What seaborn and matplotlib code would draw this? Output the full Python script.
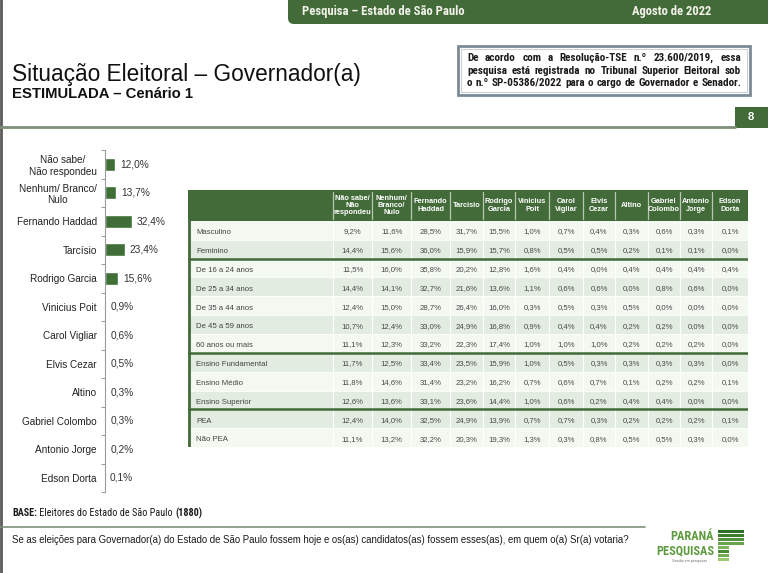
import matplotlib
matplotlib.use('Agg')
import matplotlib.pyplot as plt
import seaborn as sns
from matplotlib import font_manager
from matplotlib.patches import Rectangle, FancyBboxPatch

# ---- data ----
candidates = ['Não sabe/\nNão respondeu', 'Nenhum/ Branco/\nNulo', 'Fernando Haddad', 'Tarcísio',
              'Rodrigo Garcia', 'Vinicius Poit', 'Carol Vigliar', 'Elvis Cezar', 'Altino',
              'Gabriel Colombo', 'Antonio Jorge', 'Edson Dorta']
totals = [12.0, 13.7, 32.4, 23.4, 15.6, 0.9, 0.6, 0.5, 0.3, 0.3, 0.2, 0.1]

col_headers = ['Não sabe/\nNão\nrespondeu', 'Nenhum/\nBranco/\nNulo', 'Fernando\nHaddad', 'Tarcísio',
               'Rodrigo\nGarcia', 'Vinicius\nPoit', 'Carol\nVigliar', 'Elvis\nCezar', 'Altino',
               'Gabriel\nColombo', 'Antonio\nJorge', 'Edson\nDorta']
segments = ['Masculino', 'Feminino', 'De 16 a 24 anos', 'De 25 a 34 anos', 'De 35 a 44 anos',
            'De 45 a 59 anos', '60 anos ou mais', 'Ensino Fundamental', 'Ensino Médio',
            'Ensino Superior', 'PEA', 'Não PEA']
masculino = [9.2, 11.6, 28.5, 31.7, 15.5, 1.0, 0.7, 0.4, 0.3, 0.6, 0.3, 0.1]
feminino = [14.4, 15.6, 36.0, 15.9, 15.7, 0.8, 0.5, 0.5, 0.2, 0.1, 0.1, 0.0]
idade_16_24 = [11.5, 16.0, 35.8, 20.2, 12.8, 1.6, 0.4, 0.0, 0.4, 0.4, 0.4, 0.4]
idade_25_34 = [14.4, 14.1, 32.7, 21.6, 13.6, 1.1, 0.6, 0.6, 0.0, 0.8, 0.6, 0.0]
idade_35_44 = [12.4, 15.0, 28.7, 26.4, 16.0, 0.3, 0.5, 0.3, 0.5, 0.0, 0.0, 0.0]
idade_45_59 = [10.7, 12.4, 33.0, 24.9, 16.8, 0.9, 0.4, 0.4, 0.2, 0.2, 0.0, 0.0]
idade_60_mais = [11.1, 12.3, 33.2, 22.3, 17.4, 1.0, 1.0, 1.0, 0.2, 0.2, 0.2, 0.0]
ens_fundamental = [11.7, 12.5, 33.4, 23.5, 15.9, 1.0, 0.5, 0.3, 0.3, 0.3, 0.3, 0.0]
ens_medio = [11.8, 14.6, 31.4, 23.2, 16.2, 0.7, 0.6, 0.7, 0.1, 0.2, 0.2, 0.1]
ens_superior = [12.6, 13.6, 33.1, 23.6, 14.4, 1.0, 0.6, 0.2, 0.4, 0.4, 0.0, 0.0]
pea = [12.4, 14.0, 32.5, 24.9, 13.9, 0.7, 0.7, 0.3, 0.2, 0.2, 0.2, 0.1]
nao_pea = [11.1, 13.2, 32.2, 20.3, 19.3, 1.3, 0.3, 0.8, 0.5, 0.5, 0.3, 0.0]
table_rows = [masculino, feminino, idade_16_24, idade_25_34, idade_35_44, idade_45_59,
              idade_60_mais, ens_fundamental, ens_medio, ens_superior, pea, nao_pea]
group_breaks = [2, 7, 10]  # rows after which a group separator is drawn

# ---- style ----
GREEN = '#436b39'
LIGHT_ROW = '#f3f8f1'
DARK_ROW = '#e2ece0'
row_shade = [0, 1, 0, 1, 0, 1, 0, 1, 0, 1, 1, 0]


def has_font(name):
    try:
        font_manager.findfont(font_manager.FontProperties(family=name), fallback_to_default=False)
        return True
    except ValueError:
        return False


NARROW = 'Liberation Sans'
for cand in ['Liberation Sans Narrow', 'Roboto Condensed', 'Open Sans Condensed']:
    if has_font(cand):
        NARROW = cand
        break

sns.set_theme(style='white')
plt.rcParams['font.family'] = ['Liberation Sans', 'DejaVu Sans']


def pct(v):
    return f'{v:.1f}'.replace('.', ',') + '%'


fig = plt.figure(figsize=(7.68, 5.73), dpi=100)
fig.patch.set_facecolor('white')

# background axes in pixel coordinates for the slide decorations
bg = fig.add_axes([0, 0, 1, 1])
bg.set_xlim(0, 768)
bg.set_ylim(573, 0)
bg.axis('off')
fig.canvas.draw()
renderer = fig.canvas.get_renderer()


def text_width(s, **kw):
    t = bg.text(0, 0, s, **kw)
    w = t.get_window_extent(renderer).width
    t.remove()
    return w


def fit(s, target, size, **kw):
    # font size that makes s about target pixels wide
    return size * target / text_width(s, fontsize=size, **kw)


bg.plot([1, 1], [0, 573], color='#5a5a5a', lw=2)
bg.add_patch(FancyBboxPatch((288, -20), 500, 44, boxstyle='round,pad=0,rounding_size=6',
                            fc=GREEN, ec='none'))
hdr_kw = dict(fontweight='bold', family=NARROW)
hdr_size = fit('Pesquisa – Estado de São Paulo', 163, 9, **hdr_kw)
bg.text(302, 12, 'Pesquisa – Estado de São Paulo', color='#f2f2ea', fontsize=hdr_size,
        va='center', **hdr_kw)
bg.text(632, 12, 'Agosto de 2022', color='#f2f2ea', fontsize=hdr_size, va='center', **hdr_kw)

title = 'Situação Eleitoral – Governador(a)'
bg.text(12, 81, title, fontsize=fit(title, 350, 17), color='#111111', va='baseline')
subtitle = 'ESTIMULADA – Cenário 1'
bg.text(12, 98, subtitle, fontsize=fit(subtitle, 181, 11, fontweight='bold'), fontweight='bold',
        color='#111111', va='baseline')

# registration note box
bg.add_patch(Rectangle((458, 46), 292, 49, fc='white', ec='#7c8a95', lw=2))
bg.add_patch(Rectangle((461, 49), 286, 43, fc='none', ec='#c9d0d6', lw=0.8))
note_lines = ['De acordo com a Resolução-TSE n.º 23.600/2019, essa',
              'pesquisa está registrada no Tribunal Superior Eleitoral sob',
              'o n.º SP-05386/2022 para o cargo de Governador e Senador.']
note_base = dict(fontweight='bold', family=NARROW)
note_size = fit(note_lines[1], 262, 7, **note_base)
note_kw = dict(fontsize=note_size, color='#1a1a1a', **note_base)
for k, line in enumerate(note_lines):
    words = line.split()
    widths = [text_width(w, **note_kw) for w in words]
    gap = (741 - 467 - sum(widths)) / (len(words) - 1)
    x = 467
    for w, wd in zip(words, widths):
        bg.text(x, 58 + k * 12.5, w, va='center', **note_kw)
        x += wd + gap

# page number and separator
bg.plot([0, 735], [127, 127], color='#7f8f79', lw=2)
bg.add_patch(Rectangle((735, 107), 33, 21, fc=GREEN, ec='none'))
bg.text(751, 117, '8', color='white', fontsize=8, fontweight='bold', ha='center', va='center')

# ---- bar chart ----
ax = fig.add_axes([105 / 768, 1 - 492 / 573, 100 / 768, 342 / 573])
sns.barplot(x=totals, y=candidates, orient='h', color='#3f6f37', saturation=1, width=0.45, ax=ax)
ax.set_xlim(0, 120)
ax.set_ylim(11.5, -0.5)
ax.set_xlabel('')
ax.set_ylabel('')
ax.set_xticks([])
for s in ['top', 'right', 'bottom']:
    ax.spines[s].set_visible(False)
ax.spines['left'].set_color('#9a9a9a')
ax.spines['left'].set_linewidth(0.8)
ax.set_yticks([i - 0.5 for i in range(13)], minor=True)
ax.tick_params(axis='y', which='major', length=0, pad=6, labelsize=7.2, labelcolor='#222222')
ax.tick_params(axis='y', which='minor', length=3, width=0.7, color='#9a9a9a', left=True)
for lbl in ax.get_yticklabels():
    lbl.set_multialignment('center')
for i, v in enumerate(totals):
    ax.annotate(pct(v), (v, i), xytext=(5, 0), textcoords='offset pixels', va='center',
                fontsize=7.3, color='#333333')
ax.patch.set_alpha(0)

# ---- cross table ----
col_edges = [145, 184, 223, 262, 295, 327, 361, 395, 427, 460, 492, 524, 560]
head_h = 31
row_h = (257 - head_h) / len(segments)
tb = fig.add_axes([188 / 768, 1 - 447 / 573, 560 / 768, 257 / 573])
tb.set_xlim(0, 560)
tb.set_ylim(257, 0)
tb.axis('off')

tb.add_patch(Rectangle((0, 0), 560, head_h, fc=GREEN, ec='none'))
for j, h in enumerate(col_headers):
    xc = (col_edges[j] + col_edges[j + 1]) / 2
    tb.text(xc, head_h / 2, h, ha='center', va='center', color='white', fontsize=5.3,
            fontweight='bold', linespacing=1.05, multialignment='center')
for e in col_edges[:-1]:
    tb.plot([e, e], [2, head_h - 2], color='#b8c8b0', lw=0.9)

for i, (seg, vals) in enumerate(zip(segments, table_rows)):
    y0 = head_h + i * row_h
    yc = y0 + row_h / 2 + 0.5
    tb.add_patch(Rectangle((0, y0), 560, row_h, fc=DARK_ROW if row_shade[i] else LIGHT_ROW,
                           ec='none'))
    tb.text(8, yc + 0.8, seg, va='center_baseline', fontsize=5.6, color='#444444')
    for j, v in enumerate(vals):
        xc = (col_edges[j] + col_edges[j + 1]) / 2
        tb.text(xc, yc, pct(v), ha='center', va='center_baseline', fontsize=5.6,
                color='#4a4a4a')
    tb.plot([0, 560], [y0 + row_h, y0 + row_h], color='white', lw=0.6)
for e in col_edges[:-1]:
    tb.plot([e, e], [head_h, 257], color='white', lw=0.8)
for b in group_breaks:
    yb = head_h + b * row_h
    tb.plot([0, 560], [yb, yb], color=GREEN, lw=1.8)
tb.plot([0.5, 0.5], [0, 257], color=GREEN, lw=2)

# ---- footer ----
base_parts = [('BASE:', 'bold'), (' Eleitores do Estado de São Paulo ', 'normal'), ('(1880)', 'bold')]
base_w = sum(text_width(s, fontsize=6.5, fontweight=w, family=NARROW) for s, w in base_parts)
base_size = 6.5 * 188 / base_w
bx = 12
for s, w in base_parts:
    kw = dict(fontsize=base_size, fontweight=w, family=NARROW, color='#1a1a1a')
    bg.text(bx, 513, s, va='center', **kw)
    bx += text_width(s, **kw)
bg.plot([0, 645], [527, 527], color='#7f8f79', lw=1.2)
question = ('Se as eleições para Governador(a) do Estado de São Paulo fossem hoje e os(as) '
            'candidatos(as) fossem esses(as), em quem o(a) Sr(a) votaria?')
bg.text(12, 540, question, fontsize=fit(question, 620, 7), color='#1a1a1a', va='center')

# logo
logo_green = '#5c9b3d'
logo_kw = dict(fontweight='bold', family=NARROW)
logo_size = fit('PESQUISAS', 58, 10, **logo_kw)
bg.text(714, 537, 'PARANÁ', fontsize=logo_size, color=logo_green, ha='right', va='center',
        **logo_kw)
bg.text(714, 551, 'PESQUISAS', fontsize=logo_size, color=logo_green, ha='right', va='center',
        **logo_kw)
bg.text(690, 561, 'Gestão em pesquisas', fontsize=2.6, color='#666666', ha='center', va='center')
stripe_cols = ['#2f6e27', '#3f7d2f', '#569040', '#6ba34c', '#80b35a', '#4f8a36', '#76ab50', '#9cc86e']
for k, c in enumerate(stripe_cols):
    y = 530 + k * 4
    w = 26 if k < 4 else 11
    bg.add_patch(Rectangle((718, y), w, 3, fc=c, ec='none'))

fig.savefig('out.png', dpi=100)
